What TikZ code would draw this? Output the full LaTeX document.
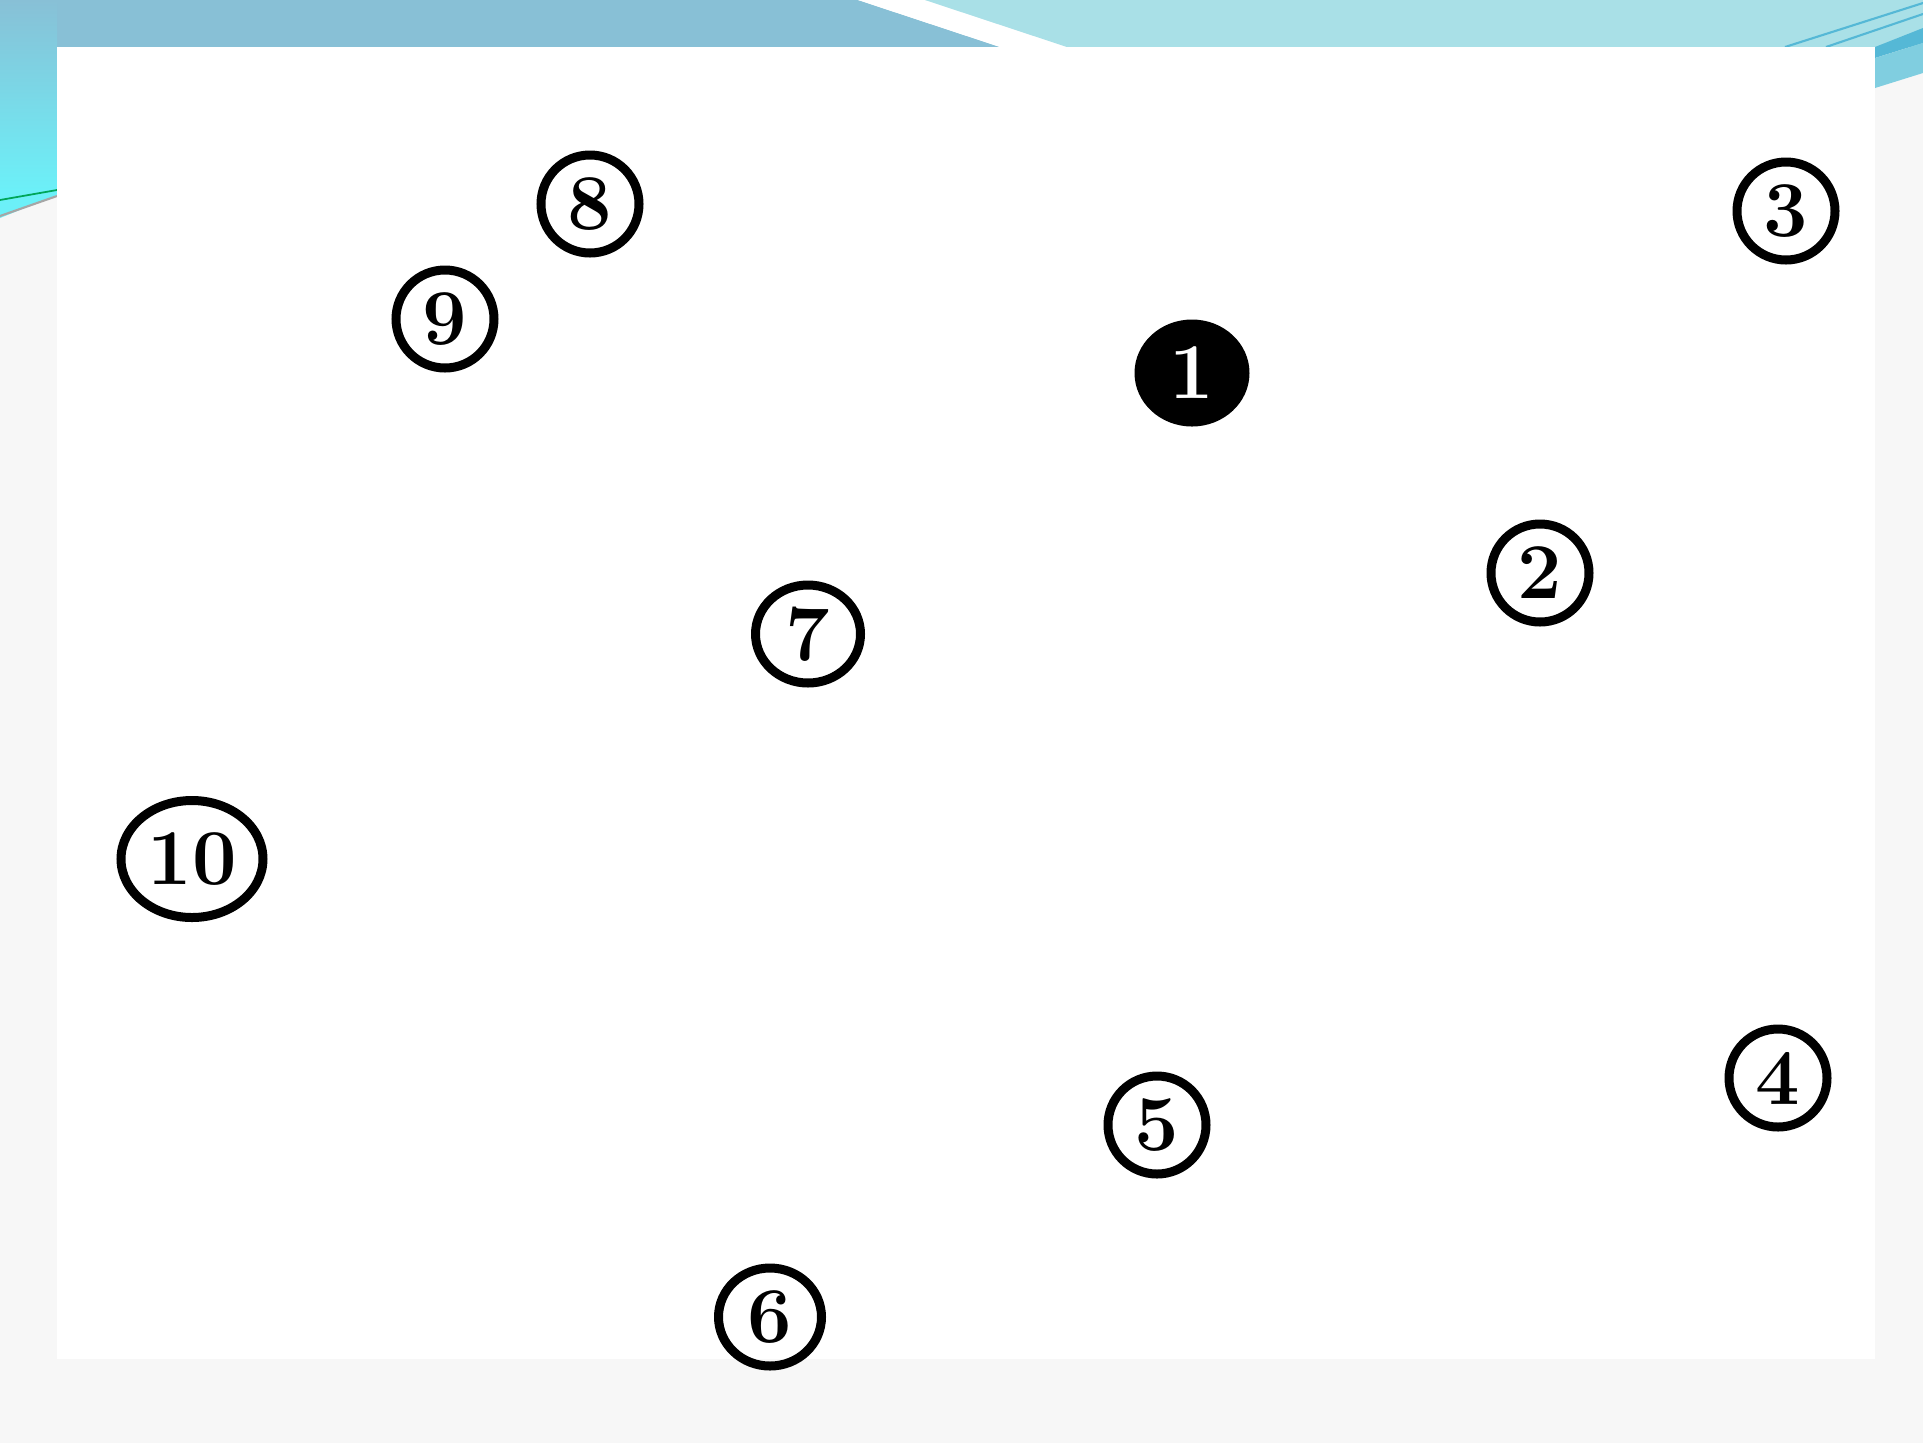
\documentclass[tikz,border=0pt]{standalone}
\usepackage{xcolor}
\usepackage{tikz}
\usetikzlibrary{shapes.geometric}

\definecolor{bandblue}{HTML}{88C0D6}
\definecolor{bandcyan}{HTML}{A9E0E7}
\definecolor{stripcyan}{HTML}{6CF0F8}
\definecolor{edgeblue}{HTML}{55B8D6}
\definecolor{edgelight}{HTML}{80CEE0}
\definecolor{paper}{HTML}{F7F7F7}

\begin{document}
\begin{tikzpicture}[
  x=0.2mm, y=-0.2mm,
  font=\fontsize{45}{48}\selectfont\bfseries,
  num/.style={circle,draw=black,line width=1.8mm,minimum size=19.6mm,inner sep=0pt},
  wide/.style={ellipse,draw=black,line width=1.8mm,inner sep=0pt},
  start/.style={ellipse,fill=black,text=white,inner sep=0pt,minimum width=23mm,minimum height=21.4mm}
]
\useasboundingbox (0,0) rectangle (1923,1443);
% backdrop
\fill[paper] (0,0) rectangle (1923,1443);
\fill[bandblue] (0,0) -- (858,0) -- (1000,47) -- (57,47) -- cycle;
\fill[white] (858,0) -- (925,0) -- (1067,47) -- (1000,47) -- cycle;
\fill[bandcyan] (925,0) -- (1923,0) -- (1923,47) -- (1067,47) -- cycle;
\shade[top color=bandblue,bottom color=stripcyan] (0,0) rectangle (57,190);
\fill[stripcyan] (0,190) -- (57,188) -- (57,195) -- (0,218) -- cycle;
\draw[teal!70!green,line width=1pt] (0,200) -- (57,190);
\draw[gray!70,line width=1.2pt] (0,216) -- (57,196);
\fill[edgeblue] (1875,47) -- (1923,28) -- (1923,43) -- (1875,58) -- cycle;
\fill[edgelight] (1875,58) -- (1923,43) -- (1923,73) -- (1875,88) -- cycle;
\draw[edgeblue,line width=1.2pt] (1785,47) -- (1923,3);
\draw[edgeblue,line width=1.2pt] (1826,47) -- (1923,14);
\fill[white] (57,47) rectangle (1875,1359);

% numbered spots
\node[start] (one) at (1192,373) {1};
\node[num] (two) at (1540,573) {2};
\node[num] (three) at (1786,211) {3};
\node[num] (four) at (1778,1078) {4};
\node[num] (five) at (1157,1125) {5};
\node[wide,minimum width=20.6mm,minimum height=19.6mm] (six) at (770,1317) {6};
\node[wide,minimum width=21mm,minimum height=19.6mm] (seven) at (808,634) {7};
\node[num] (eight) at (590,204) {8};
\node[num] (nine) at (445,319) {9};
\node[wide,minimum width=28.4mm,minimum height=23.4mm] (ten) at (192,859) {10};
\end{tikzpicture}
\end{document}
